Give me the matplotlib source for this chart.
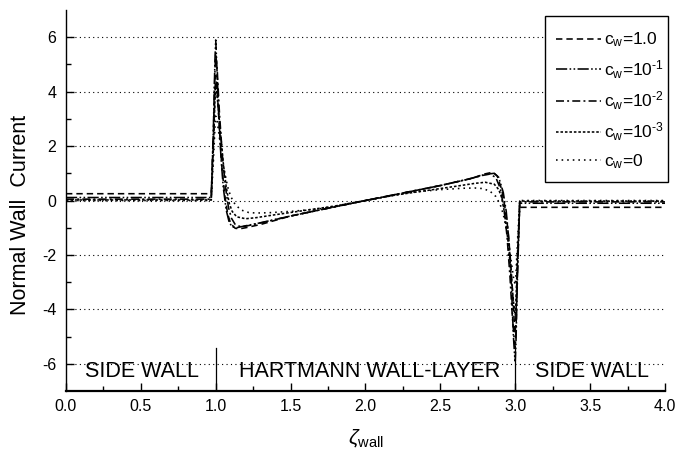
import numpy as np
import matplotlib
matplotlib.use("Agg")
import matplotlib.pyplot as plt
from matplotlib.patches import Rectangle

plt.rcParams['font.family'] = ['Liberation Sans', 'DejaVu Sans']
plt.rcParams['mathtext.fontset'] = 'custom'
plt.rcParams['mathtext.rm'] = 'Liberation Sans'
plt.rcParams['mathtext.it'] = 'Liberation Sans:italic'
plt.rcParams['axes.unicode_minus'] = False

# ─────────────────────────────────────────────────────────────
# Data (zeta_wall, normal wall current)
# ─────────────────────────────────────────────────────────────
x_cw1 = [0.0, 0.97, 0.985, 0.995, 1.0, 1.01, 1.025, 1.04, 1.06, 1.08, 1.1, 1.13, 1.16, 1.2,
         1.3, 1.5, 1.7, 2.0, 2.3, 2.5, 2.7, 2.8, 2.85, 2.88, 2.91, 2.93, 2.95, 2.97, 2.985,
         2.995, 3.0, 3.005, 3.015, 3.03, 4.0]
y_cw1 = [0.25, 0.25, 2.2, 4.0, 4.6, 4.0, 2.6, 1.3, 0.2, -0.5, -0.85, -1.02, -1.04, -1.0,
         -0.88, -0.57, -0.34, 0.0, 0.33, 0.55, 0.8, 0.98, 1.04, 0.9, 0.4, -0.2, -1.0, -2.3, -3.6,
         -4.6, -4.9, -4.2, -2.2, -0.25, -0.25]

x_cw01 = [0.0, 0.97, 0.985, 0.995, 1.0, 1.007, 1.02, 1.035, 1.05, 1.07, 1.09, 1.11, 1.14, 1.18,
          1.28, 1.5, 1.7, 2.0, 2.3, 2.5, 2.7, 2.8, 2.86, 2.89, 2.92, 2.94, 2.96, 2.975, 2.988,
          2.996, 3.0, 3.005, 3.015, 3.03, 4.0]
y_cw01 = [0.11, 0.11, 2.8, 5.2, 5.9, 5.0, 3.2, 1.6, 0.5, -0.35, -0.8, -0.97, -1.0, -0.95,
          -0.84, -0.57, -0.34, 0.0, 0.33, 0.55, 0.8, 0.96, 1.0, 0.85, 0.3, -0.4, -1.6, -3.2, -5.0,
          -5.7, -5.9, -5.2, -2.8, -0.1, -0.1]

x_cw001 = [0.0, 0.97, 0.985, 0.995, 1.0, 1.01, 1.025, 1.045, 1.065, 1.085, 1.105, 1.13, 1.17, 1.22,
           1.32, 1.5, 1.7, 2.0, 2.3, 2.5, 2.68, 2.78, 2.83, 2.87, 2.9, 2.925, 2.945, 2.965, 2.98,
           2.993, 3.0, 3.005, 3.015, 3.03, 4.0]
y_cw001 = [0.05, 0.05, 2.6, 4.8, 5.4, 4.8, 3.2, 1.6, 0.5, -0.25, -0.65, -0.88, -0.97, -0.92,
           -0.8, -0.57, -0.34, 0.0, 0.33, 0.55, 0.78, 0.92, 0.97, 0.85, 0.45, -0.3, -1.3, -2.8, -4.2,
           -5.1, -5.4, -4.8, -2.6, -0.05, -0.05]

x_cw0001 = [0.0, 0.97, 0.985, 0.995, 1.0, 1.01, 1.03, 1.05, 1.07, 1.09, 1.11, 1.14, 1.2, 1.27,
            1.4, 1.6, 1.8, 2.0, 2.2, 2.4, 2.6, 2.73, 2.8, 2.86, 2.89, 2.91, 2.93, 2.95, 2.97,
            2.99, 3.0, 3.005, 3.015, 3.03, 4.0]
y_cw0001 = [0.02, 0.02, 2.0, 3.7, 4.2, 3.8, 2.6, 1.4, 0.5, -0.1, -0.4, -0.6, -0.67, -0.63,
            -0.52, -0.36, -0.2, 0.0, 0.2, 0.36, 0.52, 0.63, 0.67, 0.6, 0.4, 0.1, -0.5, -1.4, -2.6,
            -3.8, -4.2, -3.7, -2.0, -0.02, -0.02]

x_cw0 = [0.0, 0.97, 0.985, 0.995, 1.0, 1.01, 1.03, 1.05, 1.08, 1.1, 1.13, 1.17, 1.22, 1.27,
         1.35, 1.5, 1.7, 2.0, 2.3, 2.5, 2.65, 2.73, 2.78, 2.83, 2.87, 2.9, 2.92, 2.95, 2.97,
         2.99, 3.0, 3.005, 3.015, 3.03, 4.0]
y_cw0 = [0.0, 0.0, 1.5, 2.7, 3.1, 2.9, 2.1, 1.3, 0.5, 0.15, -0.15, -0.35, -0.44, -0.46,
         -0.45, -0.4, -0.3, 0.0, 0.3, 0.4, 0.45, 0.46, 0.44, 0.35, 0.15, -0.15, -0.5, -1.3, -2.1,
         -2.9, -3.1, -2.7, -1.5, 0.0, 0.0]

HY = '\u2010'   # plain hyphen in the exponents, as in the original
series = [
    (x_cw1,    y_cw1,    r'c$_\mathregular{w}$=1.0',                          (0, (4, 2.5))),
    (x_cw01,   y_cw01,   r'c$_\mathregular{w}$=10$^\mathregular{' + HY + '1}$', (0, (7, 1.5, 1, 1.5, 1, 1.5))),
    (x_cw001,  y_cw001,  r'c$_\mathregular{w}$=10$^\mathregular{' + HY + '2}$', (0, (5, 2, 1.2, 2))),
    (x_cw0001, y_cw0001, r'c$_\mathregular{w}$=10$^\mathregular{' + HY + '3}$', (0, (1.6, 1.2))),
    (x_cw0,    y_cw0,    r'c$_\mathregular{w}$=0',                            (0, (1, 2.5))),
]

region_labels = ["SIDE WALL", "HARTMANN WALL-LAYER", "SIDE WALL"]
region_x = [0.51, 2.03, 3.51]

# ─────────────────────────────────────────────────────────────
# Plot
# ─────────────────────────────────────────────────────────────
fig = plt.figure(figsize=(6.78, 4.61), dpi=100)
ax = fig.add_axes([0.0973, 0.1518, 0.8835, 0.8265])

for yg in range(-6, 7, 2):
    ax.axhline(yg, color='black', lw=0.8, ls=(0, (1, 3)), zorder=1)

for xs, ys, lab, ls in series:
    ax.plot(xs, ys, color='black', lw=1.15, ls=ls, label=lab, zorder=3)

ax.plot([1, 1], [-7, -5.42], color='black', lw=0.9)
ax.plot([3, 3], [-7, -5.42], color='black', lw=0.9)

for xt, t in zip(region_x, region_labels):
    ax.text(xt, -6.3, t, ha='center', va='center', fontsize=15.5)

ax.set_xlim(0, 4)
ax.set_ylim(-7, 7)
ax.set_xticks(np.arange(0, 4.01, 0.5))
ax.set_xticks(np.arange(0.25, 4, 0.5), minor=True)
ax.set_yticks(range(-6, 7, 2))
ax.set_yticks(range(-5, 7, 2), minor=True)
ax.xaxis.set_major_formatter(matplotlib.ticker.FormatStrFormatter('%.1f'))
ax.tick_params(which='both', direction='in', labelsize=11.5, width=1)
ax.tick_params(which='major', length=6)
ax.tick_params(which='minor', length=3.5)
ax.tick_params(axis='x', pad=6)
ax.tick_params(axis='y', pad=7)
for side in ['top', 'right']:
    ax.spines[side].set_visible(False)
ax.spines['left'].set_linewidth(1.0)
ax.spines['bottom'].set_linewidth(1.6)

ax.set_ylabel("Normal Wall  Current", fontsize=15.5)
ax.yaxis.set_label_coords(-0.058, 0.462)
ax.set_xlabel(r'$\zeta_\mathregular{wall}$', fontsize=15, labelpad=9)

# legend box drawn separately so the padding matches the original
box = Rectangle((0.800, 0.549), 0.205, 0.435, transform=ax.transAxes,
                facecolor='white', edgecolor='black', lw=1.0, zorder=4, clip_on=False)
ax.add_patch(box)
leg = ax.legend(loc='center left', bbox_to_anchor=(0.818, 0.762), borderaxespad=0,
                borderpad=0, fontsize=12.5, frameon=False, handlelength=2.6,
                handletextpad=0.15, labelspacing=0.5)
leg.set_zorder(5)

fig.savefig("out.png", dpi=100)
